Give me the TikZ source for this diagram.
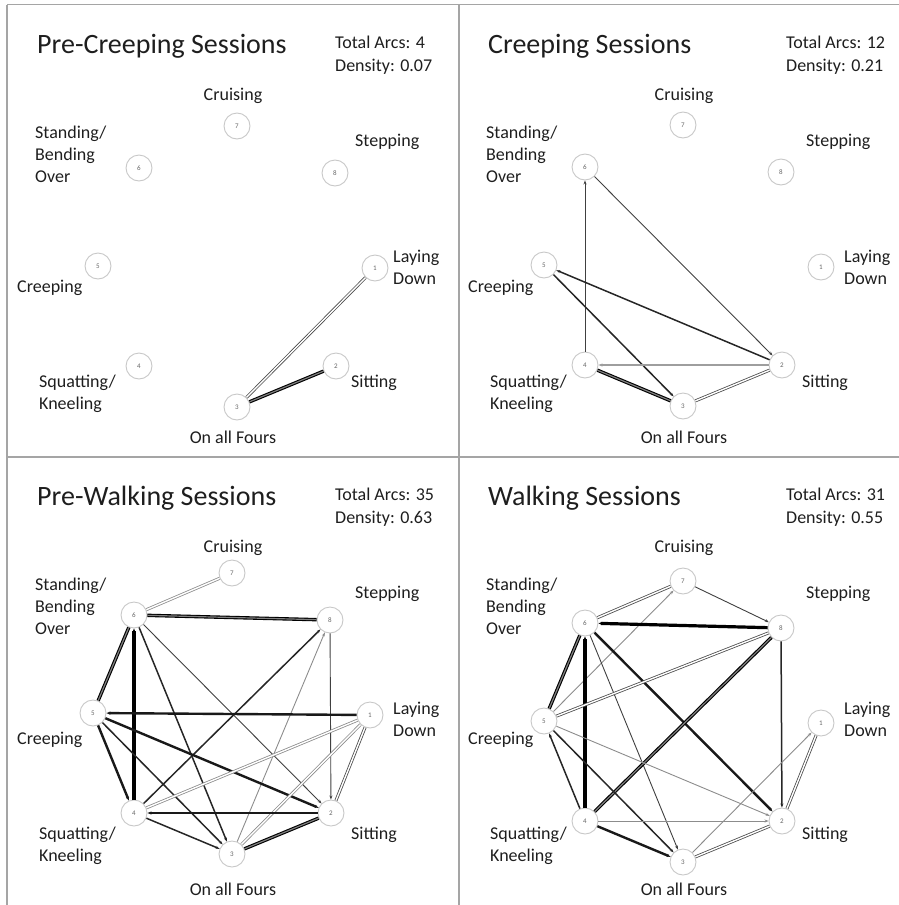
\documentclass[tikz,border=0pt]{standalone}
\usepackage{fontspec}
\setmainfont{Carlito}
\usetikzlibrary{arrows.meta}
\definecolor{framegray}{RGB}{165,165,165}
\definecolor{ringgray}{RGB}{200,200,200}
\definecolor{labeltext}{RGB}{30,30,30}
\tikzset{
  % Panel frame lines
  frame/.style={draw=framegray, line width=1.6pt},
  % Behaviour state (numbered circle)
  state/.style={
    circle, minimum size=26pt, inner sep=0pt,
    draw=ringgray, line width=0.9pt, fill=white,
    text=black!60, font=\fontsize{7}{7}\selectfont
  },
  % Panel title
  paneltitle/.style={anchor=base west, inner sep=0pt, text=labeltext,
    font=\fontsize{28}{32}\selectfont},
  % Arc count / density (anchored at the last line)
  stats/.style={anchor=base west, inner sep=0pt, align=left, text=labeltext,
    font=\fontsize{18}{23}\selectfont},
  % State name
  statelabel/.style={inner sep=0pt, align=left, text=labeltext,
    font=\fontsize{18}{22}\selectfont},
  % Arcs (one direction)
  arcthin/.style={draw=black!75, line width=0.9pt, -{Stealth[length=4pt,width=3pt]}},
  arcgray/.style={draw=black!45, line width=0.9pt, -{Stealth[length=4pt,width=3pt]}},
  arcmid/.style={draw=black!85, line width=1.5pt, -{Stealth[length=4pt,width=3pt]}},
  arcbold/.style={draw=black!90, line width=2.4pt, -{Stealth[length=4pt,width=3pt]}},
  archeavy/.style={draw=black, line width=3.2pt, -{Stealth[length=4pt,width=3pt]}},
  arcpale/.style={draw=black!38, line width=2.8pt, -{Stealth[length=4pt,width=3pt]}},
  % Arcs (both directions, drawn as a pair)
  arcpair/.style={draw=black!70, double=white, double distance=1.4pt, line width=0.8pt},
  arcpairpale/.style={draw=black!45, double=white, double distance=1.4pt, line width=0.8pt},
  arcpairdark/.style={draw=black, double=black!50, double distance=1.2pt, line width=1.1pt},
}

% eight behaviour states of one panel
\newcommand{\statenodes}[1]{%
  \node[state] (#1-7) at (237,126) {7};
  \node[state] (#1-6) at (139,168) {6};
  \node[state] (#1-8) at (335,173) {8};
  \node[state] (#1-5) at (98,266)  {5};
  \node[state] (#1-1) at (375,268) {1};
  \node[state] (#1-4) at (139,366) {4};
  \node[state] (#1-2) at (336,366) {2};
  \node[state] (#1-3) at (237,407) {3};
}
% names of the states (multi-line ones anchored at their last line)
\newcommand{\statelabels}[1]{%
  \node[statelabel, anchor=base] (#1-cruising) at (233,100) {Cruising};
  \node[statelabel, anchor=base west] (#1-standing) at (35,182) {Standing/\\Bending\\Over};
  \node[statelabel, anchor=base west] (#1-stepping) at (355,146) {Stepping};
  \node[statelabel, anchor=base west] (#1-laying) at (393,284) {Laying\\Down};
  \node[statelabel, anchor=base west] (#1-creeping) at (17,292) {Creeping};
  \node[statelabel, anchor=base west] (#1-squatting) at (39,409) {Squatting/\\Kneeling};
  \node[statelabel, anchor=base west] (#1-sitting) at (351,387) {Sitting};
  \node[statelabel, anchor=base] (#1-fours) at (233,443) {On all Fours};
}

\begin{document}
\begin{tikzpicture}[x=1pt, y=-1pt]
\useasboundingbox (0,0) rectangle (899,905);

%% ── FRAME ────────────────────────────────────────────────────────────────
\draw[frame] (7,4.5) -- (899,4.5);
\draw[frame] (7,4.5) -- (7,905);
\draw[frame] (459,4.5) -- (459,905);
\draw[frame] (7,457) -- (899,457);

%% ── PANEL 1: PRE-CREEPING ────────────────────────────────────────────────
\begin{scope}
  \node[paneltitle] (pc-title) at (37,53) {Pre-Creeping Sessions};
  \node[stats] (pc-stats) at (335,71) {Total Arcs: 4\\Density: 0.07};
  \statelabels{pc}
  \statenodes{pc}
\end{scope}

\draw[arcpair]     (pc-3) -- (pc-1);
\draw[arcpairdark] (pc-3) -- (pc-2);

%% ── PANEL 2: CREEPING ────────────────────────────────────────────────────
\begin{scope}[shift={(451,0)}]
  \node[paneltitle] (cr-title) at (37,53) {Creeping Sessions};
  \node[stats] (cr-stats) at (335,71) {Total Arcs: 12\\Density: 0.21};
  \statelabels{cr}
  \begin{scope}[shift={(-5,-1)}]
    \statenodes{cr}
  \end{scope}
\end{scope}

\draw[arcthin]     (cr-4) -- (cr-6);
\draw[arcthin]     (cr-6) -- (cr-2);
\draw[arcmid]      (cr-2) -- (cr-5);
\draw[arcmid]      (cr-5) -- (cr-3);
\draw[arcpale]     (cr-2) -- (cr-4);
\draw[arcpairdark] (cr-4) -- (cr-3);
\draw[arcpair]     (cr-3) -- (cr-2);

%% ── PANEL 3: PRE-WALKING ─────────────────────────────────────────────────
\begin{scope}[shift={(0,452)}]
  \node[paneltitle] (pw-title) at (37,53) {Pre-Walking Sessions};
  \node[stats] (pw-stats) at (335,71) {Total Arcs: 35\\Density: 0.63};
  \statelabels{pw}
  \begin{scope}[shift={(-5,-5)}]
    \statenodes{pw}
  \end{scope}
\end{scope}

\draw[arcpairpale] (pw-6) -- (pw-7);
\draw[arcpairdark] (pw-6) -- (pw-8);
\draw[arcpairdark] (pw-5) -- (pw-6);
\draw[archeavy]    (pw-4) -- (pw-6);
\draw[arcmid]      (pw-6) -- (pw-3);
\draw[arcthin]     (pw-6) -- (pw-2);
\draw[arcmid]      (pw-4) -- (pw-8);
\draw[arcgray]     (pw-3) -- (pw-8);
\draw[arcthin]     (pw-8) -- (pw-2);
\draw[arcbold]     (pw-1) -- (pw-5);
\draw[arcbold]     (pw-5) -- (pw-4);
\draw[arcmid]      (pw-5) -- (pw-3);
\draw[arcbold]     (pw-5) -- (pw-2);
\draw[arcpairpale] (pw-4) -- (pw-1);
\draw[arcpairpale] (pw-3) -- (pw-1);
\draw[arcpair]     (pw-2) -- (pw-1);
\draw[arcbold]     (pw-2) -- (pw-4);
\draw[arcmid]      (pw-4) -- (pw-3);
\draw[arcpairdark] (pw-3) -- (pw-2);

%% ── PANEL 4: WALKING ─────────────────────────────────────────────────────
\begin{scope}[shift={(451,452)}]
  \node[paneltitle] (wk-title) at (37,53) {Walking Sessions};
  \node[stats] (wk-stats) at (335,71) {Total Arcs: 31\\Density: 0.55};
  \statelabels{wk}
  \begin{scope}[shift={(-5,3)}]
    \statenodes{wk}
  \end{scope}
\end{scope}

\draw[arcpair]     (wk-6) -- (wk-7);
\draw[arcthin]     (wk-7) -- (wk-8);
\draw[arcgray]     (wk-5) -- (wk-7);
\draw[archeavy]    (wk-8) -- (wk-6);
\draw[arcpairdark] (wk-5) -- (wk-6);
\draw[archeavy]    (wk-4) -- (wk-6);
\draw[arcthin]     (wk-6) -- (wk-3);
\draw[arcbold]     (wk-6) -- (wk-2);
\draw[arcpair]     (wk-8) -- (wk-5);
\draw[arcpairdark] (wk-4) -- (wk-8);
\draw[arcmid]      (wk-8) -- (wk-2);
\draw[arcmid]      (wk-4) -- (wk-5);
\draw[arcmid]      (wk-5) -- (wk-3);
\draw[arcgray]     (wk-5) -- (wk-2);
\draw[arcgray]     (wk-3) -- (wk-1);
\draw[arcpair]     (wk-1) -- (wk-2);
\draw[arcgray]     (wk-4) -- (wk-2);
\draw[arcbold]     (wk-4) -- (wk-3);
\draw[arcpair]     (wk-3) -- (wk-2);

\end{tikzpicture}
\end{document}
